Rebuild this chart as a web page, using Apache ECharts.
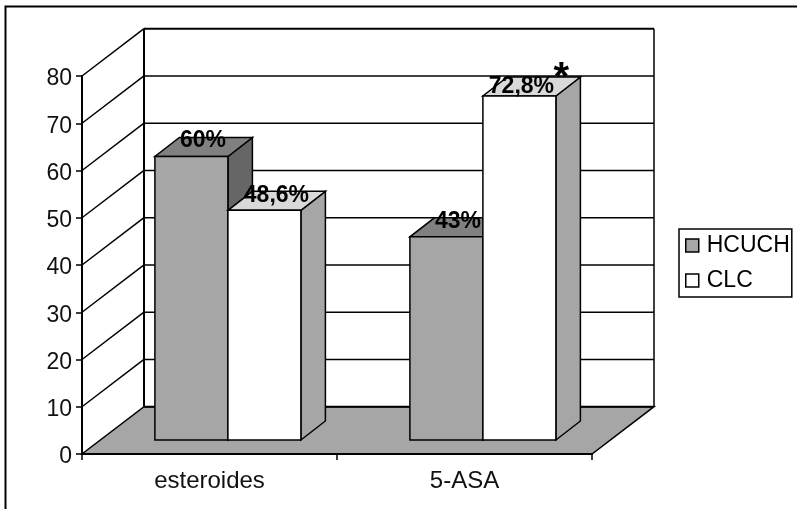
<!DOCTYPE html>
<html>
<head>
<meta charset="utf-8">
<style>html,body{margin:0;padding:0;background:#fff}#c{width:797px;height:509px}</style>
<script src="https://cdn.jsdelivr.net/npm/echarts@6/dist/echarts.min.js"></script>
</head>
<body>
<div id="c"></div>
<script>
const categories = ['esteroides', '5-ASA'];
const seriesNames = ['HCUCH', 'CLC'];
const hcuch = [60, 43];
const clc = [48.6, 72.8];
const hcuchLabels = ['60%', '43%'];
const clcLabels = ['48,6%', '72,8%'];
const yTicks = [0, 10, 20, 30, 40, 50, 60, 70, 80];

const FONT = '"Liberation Sans", Arial, sans-serif';
const FS = 23;
const WALL_DX = 62, WALL_DY = -47.3;       // oblique depth of the plot floor
const BAR_X = 18.4, BAR_Y = -14;           // front of the bars, inside the depth
const BAR_DX = 24.5, BAR_DY = -19;         // depth of each bar
const BAR_W = 73;
const INK = '#000';
const FACE = {
  HCUCH: {front: '#a6a6a6', top: '#808080', side: '#666666'},
  CLC: {front: '#ffffff', top: '#d9d9d9', side: '#a6a6a6'}
};

function poly(points, fill, lw) {
  return {type: 'polygon', shape: {points}, style: {fill, stroke: INK, lineWidth: lw || 1.5, lineJoin: 'miter'}};
}
function seg(x1, y1, x2, y2, lw) {
  return {type: 'line', shape: {x1, y1, x2, y2}, style: {stroke: INK, lineWidth: lw || 1.5, fill: null}};
}

function renderWall(params, api) {
  const v = api.value(1);
  const band = api.size([1, 0])[0];
  const p = api.coord([0, v]);
  const x0 = p[0] - band / 2, y = p[1];
  const xEnd = x0 + band * categories.length;
  const bx0 = x0 + WALL_DX, bx1 = xEnd + WALL_DX, by = y + WALL_DY;
  const kids = [];
  if (v === yTicks[0]) {
    kids.push(poly([[x0, y], [xEnd, y], [bx1, by], [bx0, by]], '#a6a6a6', 1.5));
    kids.push(seg(bx0, by, bx1, by, 2));
  } else {
    kids.push(seg(x0, y, bx0, by, 1.5));
    kids.push(seg(bx0, by, bx1, by, v === yTicks[yTicks.length - 1] ? 2 : 1.5));
  }
  if (v === yTicks[yTicks.length - 1]) {
    const y0 = api.coord([0, yTicks[0]])[1] + WALL_DY;
    kids.push(seg(bx0, by, bx0, y0, 2));
    kids.push(seg(bx1, by, bx1, y0, 1.5));
  }
  return {type: 'group', children: kids};
}

function barRenderer(name, seat) {
  return function (params, api) {
    const cx = api.coord([api.value(0), 0])[0] + BAR_X;
    const yb = api.coord([api.value(0), 0])[1] + BAR_Y;
    const yt = api.coord([api.value(0), api.value(1)])[1] + BAR_Y;
    const x0 = cx + (seat - 1) * BAR_W, x1 = x0 + BAR_W;
    const c = FACE[name];
    return {type: 'group', children: [
      poly([[x1, yb], [x1 + BAR_DX, yb + BAR_DY], [x1 + BAR_DX, yt + BAR_DY], [x1, yt]], c.side),
      poly([[x0, yt], [x1, yt], [x1 + BAR_DX, yt + BAR_DY], [x0 + BAR_DX, yt + BAR_DY]], c.top),
      poly([[x0, yb], [x1, yb], [x1, yt], [x0, yt]], c.front)
    ]};
  };
}

const labelShift = {HCUCH: [[11.5, -16], [11.5, -15.5]], CLC: [[12, -15], [2, -9.5]]};
function labelRenderer(name, seat, texts) {
  return function (params, api) {
    const i = api.value(0);
    const p = api.coord([i, api.value(1)]);
    const s = labelShift[name][params.dataIndex];
    const cx = p[0] + BAR_X + (seat - 0.5) * BAR_W;
    const y = p[1] + BAR_Y;
    const kids = [{type: 'text', style: {
      x: cx + s[0], y: y + s[1], text: texts[params.dataIndex], align: 'center', verticalAlign: 'middle',
      font: 'bold ' + FS + 'px ' + FONT, fill: INK
    }}];
    if (name === 'CLC' && params.dataIndex === 1) {
      kids.push({type: 'text', style: {
        x: cx + 42, y: y - 17, text: '*', align: 'center', verticalAlign: 'middle',
        font: 'bold 40px ' + FONT, fill: INK
      }});
    }
    return {type: 'group', children: kids};
  };
}

const toRows = vals => vals.map((v, i) => [i, v]);
const chart = echarts.init(document.getElementById('c'), null, {renderer: 'canvas'});
chart.setOption({
  animation: false,
  backgroundColor: '#fff',
  textStyle: {fontFamily: FONT},
  graphic: [{
    type: 'rect', z: 0, silent: true,
    shape: {x: 5.5, y: 6.5, width: 900, height: 700},
    style: {fill: 'none', stroke: INK, lineWidth: 2}
  }],
  grid: {left: 82, right: 205, top: 76, bottom: 55},
  legend: {
    data: seriesNames, orient: 'vertical', left: 679, top: 229,
    itemWidth: 13, itemHeight: 13, itemGap: 12, icon: 'rect',
    padding: [5, 2, 5, 6],
    borderColor: INK, borderWidth: 1.5, backgroundColor: '#fff',
    textStyle: {fontSize: FS, color: INK, fontFamily: FONT, padding: [0, 0, 0, 3]},
    itemStyle: {borderColor: INK, borderWidth: 1.5}
  },
  xAxis: {
    type: 'category', data: categories, z: 3,
    axisLine: {lineStyle: {color: INK, width: 2}},
    axisTick: {show: true, length: 6, lineStyle: {color: INK, width: 1.5}},
    axisLabel: {fontSize: 24, color: '#111', margin: 15, fontFamily: FONT},
    splitLine: {show: false}
  },
  yAxis: {
    type: 'value', min: 0, max: 80, interval: 10, z: 3,
    axisLine: {show: true, lineStyle: {color: INK, width: 2}},
    axisTick: {show: true, length: 6, lineStyle: {color: INK, width: 1.5}},
    axisLabel: {fontSize: FS, color: '#111', margin: 10, fontFamily: FONT, verticalAlign: 'top', lineHeight: 6},
    splitLine: {show: false}
  },
  series: [
    {type: 'custom', name: 'wall', clip: false, silent: true, renderItem: renderWall,
     data: yTicks.map(v => [0, v]), encode: {x: 0, y: 1}},
    {type: 'custom', name: seriesNames[0], clip: false, renderItem: barRenderer(seriesNames[0], 0),
     data: toRows(hcuch), encode: {x: 0, y: 1}, itemStyle: {color: FACE.HCUCH.front}},
    {type: 'custom', name: seriesNames[1], clip: false, renderItem: barRenderer(seriesNames[1], 1),
     data: toRows(clc), encode: {x: 0, y: 1}, itemStyle: {color: FACE.CLC.front}},
    {type: 'custom', name: 'lab1', clip: false, silent: true, z: 5, renderItem: labelRenderer(seriesNames[0], 0, hcuchLabels),
     data: toRows(hcuch), encode: {x: 0, y: 1}},
    {type: 'custom', name: 'lab2', clip: false, silent: true, z: 5, renderItem: labelRenderer(seriesNames[1], 1, clcLabels),
     data: toRows(clc), encode: {x: 0, y: 1}}
  ]
});
</script>
</body>
</html>
